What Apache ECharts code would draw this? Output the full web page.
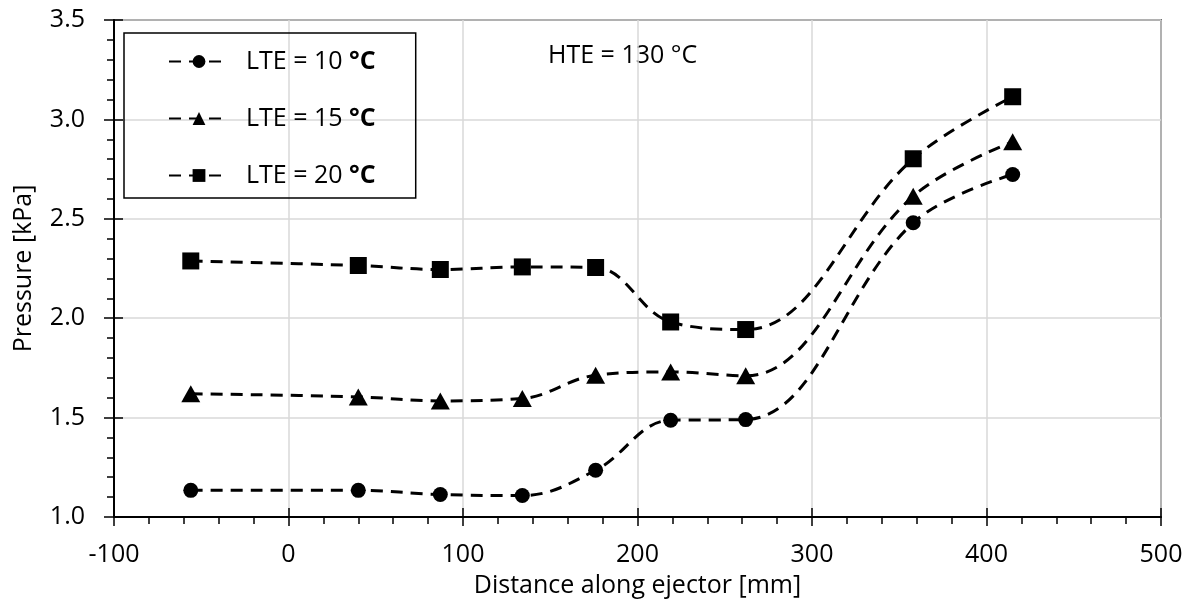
<!DOCTYPE html>
<html>
<head>
<meta charset="utf-8">
<script src="https://cdn.jsdelivr.net/npm/echarts@6/dist/echarts.min.js"></script>
<style>
html,body{margin:0;padding:0;background:#fff;}
#chart{width:1193px;height:604px;}
</style>
</head>
<body>
<div id="chart"></div>
<script>
// Data
const distance = [-56, 40, 87, 134, 176, 219, 262, 358, 415];
const lte10 = [1.134, 1.134, 1.113, 1.108, 1.235, 1.487, 1.490, 2.480, 2.723];
const lte15 = [1.620, 1.604, 1.584, 1.596, 1.713, 1.730, 1.710, 2.614, 2.887];
const lte20 = [2.288, 2.265, 2.245, 2.258, 2.255, 1.981, 1.943, 2.802, 3.114];
const seriesNames = ['LTE = 10 °C', 'LTE = 15 °C', 'LTE = 20 °C'];
const seriesSymbols = ['circle', 'triangle', 'rect'];
const seriesSymbolSizes = [15, [19, 17], 17];
const xTitle = 'Distance along ejector [mm]';
const yTitle = 'Pressure [kPa]';
const note = 'HTE = 130 °C';

const FONT = '"Open Sans", Lato, sans-serif';
const FS = 25;
const chart = echarts.init(document.getElementById('chart'), null, {renderer: 'canvas'});

function pairs(ys) { return distance.map((x, i) => [x, ys[i]]); }
const allY = [lte10, lte15, lte20];

const series = allY.map((ys, i) => ({
  name: seriesNames[i],
  type: 'line',
  xAxisIndex: 0,
  yAxisIndex: 0,
  data: pairs(ys),
  smooth: 0.38,
  symbol: seriesSymbols[i],
  symbolSize: seriesSymbolSizes[i],
  showAllSymbol: true,
  itemStyle: {color: '#000'},
  lineStyle: {color: '#000', width: 3, type: [12, 8]},
  z: 5
}));

const option = {
  backgroundColor: '#fff',
  animation: false,
  grid: {left: 114, right: 32, top: 20, bottom: 87, show: true, borderColor: '#000', borderWidth: 1.5, backgroundColor: 'transparent'},
  legend: {
    orient: 'vertical', left: 124, top: 33,
    padding: [16, 40, 10, 44],
    borderColor: '#000', borderWidth: 1.5,
    itemWidth: 60, itemHeight: 16, itemGap: 32,
    data: seriesNames,
    textStyle: {fontFamily: FONT, fontSize: FS, color: '#000', padding: [0, 0, 0, 12],
      rich: {b: {fontFamily: FONT, fontSize: FS, fontWeight: 'bold', color: '#000'}}},
    formatter: function (n) { return n.replace('°C', '{b|°C}'); }
  },
  xAxis: [{
    type: 'value', min: -100, max: 500, interval: 100, position: 'bottom',
    name: xTitle, nameLocation: 'middle', nameGap: 56,
    nameTextStyle: {fontFamily: FONT, fontSize: FS, color: '#000'},
    axisLine: {show: true, onZero: false, lineStyle: {color: '#000', width: 2}},
    axisTick: {show: true, inside: false, length: 9, lineStyle: {color: '#000', width: 1.5}},
    minorTick: {show: true, splitNumber: 5, length: 7, lineStyle: {color: '#000', width: 1.5}},
    axisLabel: {fontFamily: FONT, fontSize: FS, color: '#000', margin: 25},
    splitLine: {show: true, lineStyle: {color: '#d9d9d9', width: 1.5}}
  }, {
    type: 'value', min: -100, max: 500, interval: 100, position: 'bottom', offset: 0,
    axisLine: {show: false, onZero: false}, axisLabel: {show: false}, splitLine: {show: false},
    axisTick: {show: true, inside: true, length: 9, lineStyle: {color: '#000', width: 1.5}}
  }],
  yAxis: [{
    type: 'value', min: 1, max: 3.5, interval: 0.5, position: 'left',
    name: yTitle, nameLocation: 'middle', nameGap: 78, nameRotate: 90,
    nameTextStyle: {fontFamily: FONT, fontSize: FS, color: '#000'},
    axisLine: {show: true, onZero: false, lineStyle: {color: '#000', width: 2}},
    axisTick: {show: true, inside: false, length: 10, lineStyle: {color: '#000', width: 1.5}},
    minorTick: {show: true, splitNumber: 5, length: 7, lineStyle: {color: '#000', width: 1.5}},
    axisLabel: {fontFamily: FONT, fontSize: FS, color: '#000', margin: 29, formatter: v => v.toFixed(1)},
    splitLine: {show: true, lineStyle: {color: '#d9d9d9', width: 1.5}}
  }, {
    type: 'value', min: 1, max: 3.5, interval: 0.5, position: 'left', offset: 0,
    axisLine: {show: false, onZero: false}, axisLabel: {show: false}, splitLine: {show: false},
    axisTick: {show: true, inside: true, length: 9, lineStyle: {color: '#000', width: 1.5}}
  }],
  graphic: [{
    type: 'text', left: 548, top: 43,
    style: {text: note, fontFamily: FONT, fontSize: FS, fill: '#000'}
  }],
  series: series
};
chart.setOption(option);
</script>
</body>
</html>
